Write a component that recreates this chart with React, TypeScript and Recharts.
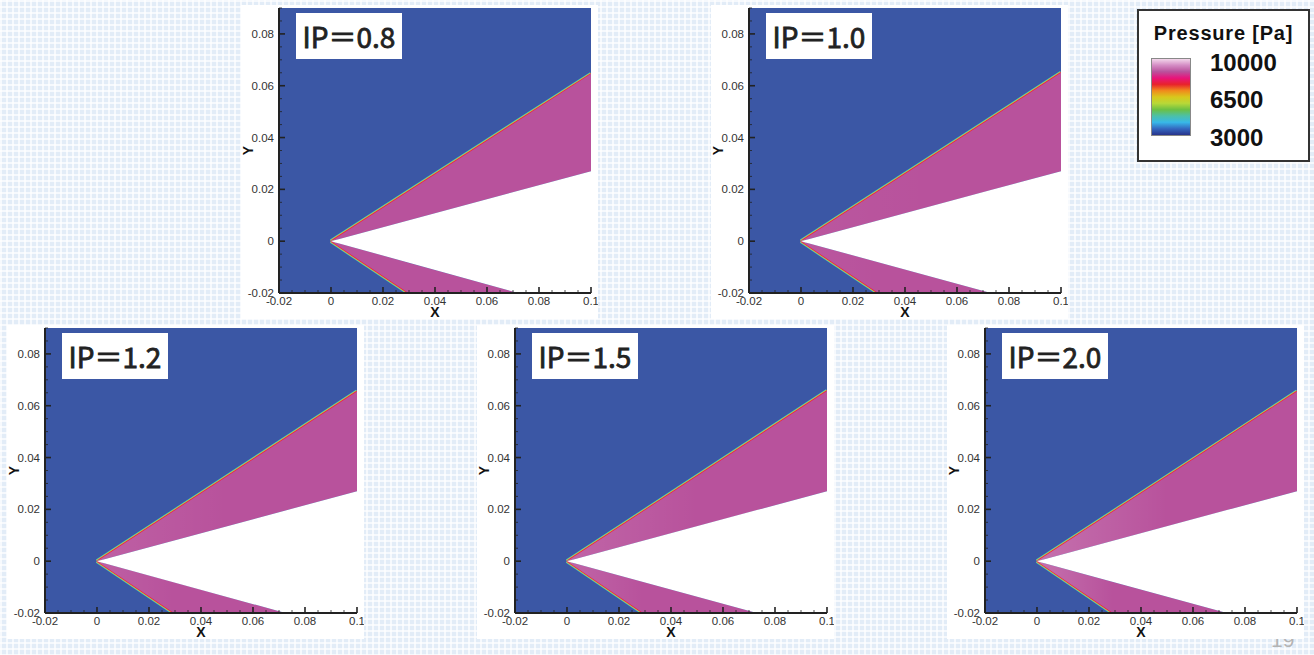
import React from "react";
import { ComposedChart, Area, XAxis, YAxis } from "recharts";

// one entry per panel
const ipLabels = ["IP＝0.8", "IP＝1.0", "IP＝1.2", "IP＝1.5", "IP＝2.0"];
const upperShockY = [0.0646, 0.065, 0.0655, 0.0657, 0.0655]; // shock height at x = 0.1
const lowerShockX = [0.0298, 0.0297, 0.0296, 0.0293, 0.0292]; // shock meets y = -0.02
const upperBodyY = [0.027, 0.027, 0.027, 0.027, 0.027]; // wedge surface at x = 0.1
const lowerBodyX = [0.072, 0.073, 0.0725, 0.073, 0.073]; // wedge surface meets y = -0.02
const fanOpacity = [0, 0.03, 0.08, 0.11, 0.18];

const xTicks = [
  -0.02, -0.015, -0.01, -0.005, 0, 0.005, 0.01, 0.015, 0.02, 0.025, 0.03, 0.035, 0.04,
  0.045, 0.05, 0.055, 0.06, 0.065, 0.07, 0.075, 0.08, 0.085, 0.09, 0.095, 0.1,
];
const xLabels = [-0.02, 0, 0.02, 0.04, 0.06, 0.08, 0.1];
const yTicks = [
  -0.02, -0.015, -0.01, -0.005, 0, 0.005, 0.01, 0.015, 0.02, 0.025, 0.03, 0.035, 0.04,
  0.045, 0.05, 0.055, 0.06, 0.065, 0.07, 0.075, 0.08, 0.085, 0.09,
];
const yLabels = [-0.02, 0, 0.02, 0.04, 0.06, 0.08];

const legendLevels = ["10000", "6500", "3000"];
const legendColors = [
  "#f2d6ea", "#d48cc4", "#b9529c", "#e8147c", "#e8222c", "#f08a1c",
  "#d8c81c", "#b8d838", "#6cc044", "#4cc0a8", "#38b8e8", "#3468c0", "#28348c",
];

// panel placement (plot-area top-left corners)
const plotPos = [
  [279, 8],
  [749, 8],
  [45, 328],
  [515, 328],
  [985, 328],
];

const PLOT_W = 312;
const PLOT_H = 285;
const M_LEFT = 38;
const M_TOP = 3;
const M_RIGHT = 7;
const M_BOTTOM = 26;

const BLUE = "#3b57a5";
const MAGENTA = "#b8529c";
const FONT = "'Liberation Sans', Arial, sans-serif";

const isMajor = (v: number, list: number[]) => list.some((m) => Math.abs(m - v) < 1e-9);

const XTick = (props: any) => {
  const { x, y, payload } = props;
  const major = isMajor(payload.value, xLabels);
  return (
    <g>
      <line x1={x} x2={x} y1={y} y2={y - (major ? 6 : 3)} stroke="#222" strokeWidth={major ? 1.6 : 0.8} />
      {major && (
        <text x={x} y={y + 12} textAnchor="middle" fontSize={11.5} fill="#333" fontFamily={FONT}>
          {String(payload.value)}
        </text>
      )}
    </g>
  );
};

const YTick = (props: any) => {
  const { x, y, payload } = props;
  const major = isMajor(payload.value, yLabels);
  return (
    <g>
      <line x1={x} x2={x + (major ? 6 : 3)} y1={y} y2={y} stroke="#222" strokeWidth={major ? 1.6 : 0.8} />
      {major && (
        <text x={x - 5} y={y + 4} textAnchor="end" fontSize={11.5} fill="#333" fontFamily={FONT}>
          {String(payload.value)}
        </text>
      )}
    </g>
  );
};

function Panel({ i }: { i: number }) {
  const sy = upperShockY[i];
  const sx = lowerShockX[i];
  const by = upperBodyY[i];
  const bx = lowerBodyX[i];

  const background = [
    { x: -0.02, v: [-0.02, 0.09] },
    { x: 0.1, v: [-0.02, 0.09] },
  ];
  const upperShock = [
    { x: 0, y: 0 },
    { x: 0.1, y: sy },
  ];
  const lowerShock = [
    { x: 0, y: 0 },
    { x: sx, y: -0.02 },
  ];
  const upperRegion = [
    { x: 0, v: [0, 0] },
    { x: 0.1, v: [by, sy] },
  ];
  const lowerRegion = [
    { x: 0, v: [0, 0] },
    { x: sx, v: [-0.02, (-0.02 * sx) / bx] },
    { x: bx, v: [-0.02, -0.02] },
  ];
  const upperFan = [
    { x: 0, v: [0, 0] },
    { x: 0.05, v: [by * 0.5, sy * 0.5] },
  ];
  const lowerFan = [
    { x: 0, v: [0, 0] },
    { x: sx, v: [-0.02, (-0.02 * sx) / bx] },
  ];
  const body = [
    { x: 0, v: [0, 0] },
    { x: bx, v: [-0.02, (by * bx) / 0.1] },
    { x: 0.1, v: [-0.02, by] },
  ];

  const [px, py] = plotPos[i];
  const common = { type: "linear" as const, isAnimationActive: false, dot: false, activeDot: false };

  return (
    <div
      style={{
        position: "absolute",
        left: px - M_LEFT,
        top: py - M_TOP,
        width: M_LEFT + PLOT_W + M_RIGHT,
        height: M_TOP + PLOT_H + M_BOTTOM,
        background: "#fff",
      }}
    >
      <ComposedChart
        width={M_LEFT + PLOT_W + M_RIGHT}
        height={M_TOP + PLOT_H + M_BOTTOM}
        margin={{ top: M_TOP, right: M_RIGHT, left: 0, bottom: 0 }}
      >
        <defs>
          <linearGradient id={`fan${i}`} x1="0" y1="0" x2="1" y2="0">
            <stop offset="0%" stopColor="#fff" stopOpacity={fanOpacity[i]} />
            <stop offset="100%" stopColor="#fff" stopOpacity={0} />
          </linearGradient>
        </defs>
        <XAxis
          type="number"
          dataKey="x"
          domain={[-0.02, 0.1]}
          allowDataOverflow
          ticks={xTicks}
          interval={0}
          tick={<XTick />}
          tickSize={0}
          tickMargin={0}
          tickLine={false}
          height={M_BOTTOM}
          axisLine={{ stroke: "#222", strokeWidth: 2 }}
          label={{ value: "X", position: "insideBottom", offset: 2, fill: "#111", fontSize: 14, fontWeight: 700, fontFamily: FONT }}
        />
        <YAxis
          type="number"
          domain={[-0.02, 0.09]}
          allowDataOverflow
          ticks={yTicks}
          interval={0}
          tick={<YTick />}
          tickSize={0}
          tickMargin={0}
          tickLine={false}
          width={M_LEFT}
          axisLine={{ stroke: "#222", strokeWidth: 2 }}
          label={{
            value: "Y",
            angle: -90,
            position: "insideLeft",
            offset: 7,
            fill: "#111",
            fontSize: 14,
            fontWeight: 700,
            fontFamily: FONT,
            style: { textAnchor: "middle" },
          }}
        />
        <Area {...common} data={background} dataKey="v" fill={BLUE} fillOpacity={1} stroke="none" />
        {[upperShock, lowerShock].map((d, k) => (
          <React.Fragment key={k}>
            <Area {...common} data={d} dataKey="y" fill="none" fillOpacity={0} stroke="#42bcc8" strokeWidth={4} />
            <Area {...common} data={d} dataKey="y" fill="none" fillOpacity={0} stroke="#c8d630" strokeWidth={2.8} />
            <Area {...common} data={d} dataKey="y" fill="none" fillOpacity={0} stroke="#e8204a" strokeWidth={1.6} />
          </React.Fragment>
        ))}
        <Area {...common} data={upperRegion} dataKey="v" fill={MAGENTA} fillOpacity={1} stroke="none" />
        <Area {...common} data={lowerRegion} dataKey="v" fill={MAGENTA} fillOpacity={1} stroke="none" />
        <Area {...common} data={upperFan} dataKey="v" fill={`url(#fan${i})`} fillOpacity={1} stroke="none" />
        <Area {...common} data={lowerFan} dataKey="v" fill={`url(#fan${i})`} fillOpacity={1} stroke="none" />
        <Area {...common} data={body} dataKey="v" fill="#fff" fillOpacity={1} stroke="none" />
      </ComposedChart>
      <div
        style={{
          position: "absolute",
          left: M_LEFT + 17,
          top: M_TOP + 5,
          width: 106,
          height: 46,
          background: "#fff",
          color: "#222",
          fontFamily: "'Noto Sans CJK JP', 'Noto Sans', sans-serif",
          fontWeight: 400,
          fontSize: 28,
          lineHeight: "46px",
          textAlign: "center",
          WebkitTextStroke: "0.8px #222",
        }}
      >
        {ipLabels[i]}
      </div>
    </div>
  );
}

function PressureLegend() {
  const tops = [52, 89, 127];
  return (
    <div
      style={{
        position: "absolute",
        left: 1137,
        top: 9,
        width: 169,
        height: 149,
        border: "2px solid #333",
        background: "#fff",
        fontFamily: FONT,
        color: "#111",
      }}
    >
      <div
        style={{
          position: "absolute",
          left: 0,
          top: 11,
          width: "100%",
          textAlign: "center",
          fontSize: 20,
          fontWeight: 700,
          letterSpacing: 0.8,
        }}
      >
        Pressure [Pa]
      </div>
      <div
        style={{
          position: "absolute",
          left: 12,
          top: 47,
          width: 38,
          height: 76,
          border: "1px solid #888",
          background: `linear-gradient(to bottom, ${legendColors.join(", ")})`,
        }}
      />
      {legendLevels.map((t, k) => (
        <div
          key={t}
          style={{ position: "absolute", left: 71, top: tops[k] - 14, fontSize: 24, fontWeight: 700, lineHeight: "28px" }}
        >
          {t}
        </div>
      ))}
    </div>
  );
}

export default function App() {
  return (
    <div
      style={{
        position: "absolute",
        left: 0,
        top: 0,
        width: 1314,
        height: 655,
        overflow: "hidden",
        backgroundColor: "#e2ecf7",
        backgroundImage:
          "linear-gradient(90deg, rgba(255,255,255,0.7) 2px, transparent 2px), linear-gradient(rgba(255,255,255,0.7) 2px, transparent 2px)",
        backgroundSize: "6px 6px",
      }}
    >
      <div
        style={{
          position: "absolute",
          left: 1271,
          top: 628,
          fontFamily: FONT,
          fontSize: 21,
          color: "#b4b4b4",
        }}
      >
        19
      </div>
      {ipLabels.map((_, i) => (
        <Panel key={i} i={i} />
      ))}
      <PressureLegend />
    </div>
  );
}
